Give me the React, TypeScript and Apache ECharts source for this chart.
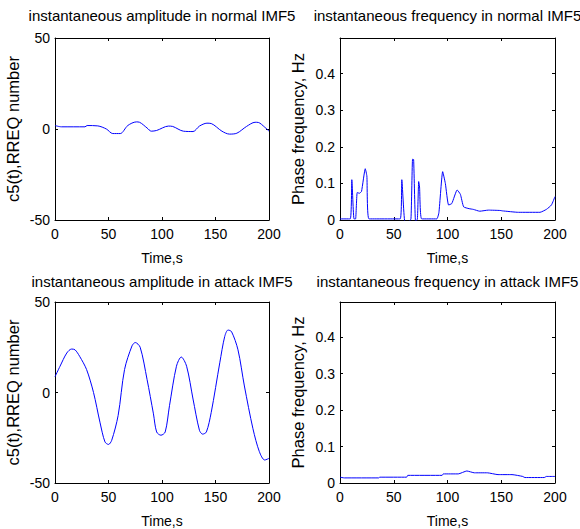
import React, { useEffect, useRef } from "react";
import * as echarts from "echarts";

const titles = [
  "instantaneous amplitude in normal IMF5",
  "instantaneous frequency in normal IMF5",
  "instantaneous amplitude in attack IMF5",
  "instantaneous frequency in attack IMF5",
];

const ampNormalT = [0, 6, 28, 30, 40, 48, 54, 61, 68, 76, 79, 86, 90, 95, 106, 110, 120, 129, 135, 142, 146, 156, 163, 170, 179, 187, 190, 196, 200];
const ampNormalV = [1.9, 1.2, 1.2, 1.9, 1.7, 0, -2.5, -2.5, 1.9, 3.9, 3.7, 0.6, -1.2, -0.8, 1.6, 1.4, -1.2, -1.4, 1.6, 3.2, 3, -1.2, -2.8, -2.3, 1.4, 3.7, 3.6, 1, -1.2];

const freqNormalT = [0, 9.5, 11, 13, 14.5, 16, 18, 20, 23.5, 25, 27, 56, 57.5, 60.4, 63.5, 66, 67.5, 68.5, 70.3, 72, 73.2, 74, 76, 90, 92, 95.5, 98, 101, 104, 109, 112, 115, 120, 124, 130, 138, 149, 151, 166, 186, 192, 196.7, 200];
const freqNormalV = [0.003, 0.003, 0.11, 0.003, 0.003, 0.075, 0.073, 0.078, 0.14, 0.12, 0.003, 0.003, 0.11, -0.006, -0.006, 0.003, 0.166, 0.165, -0.006, 0.003, 0.105, 0.09, 0.003, 0.003, 0.02, 0.132, 0.1, 0.041, 0.045, 0.082, 0.07, 0.036, 0.031, 0.029, 0.024, 0.027, 0.026, 0.025, 0.021, 0.021, 0.029, 0.041, 0.064];

const ampAttackT = [0, 4.7, 11, 15.5, 18.7, 23, 29.5, 36, 42, 46.7, 50, 53, 59, 65, 72, 75, 79.6, 86, 92, 95, 99, 103, 107, 113.5, 118, 123, 129, 135, 138, 141.5, 146, 154, 158.6, 161.7, 165, 171, 177, 185, 191, 196, 200];
const ampAttackV = [8.7, 14.5, 21.8, 24, 23.6, 20, 12.7, 0, -16.4, -27.3, -28.7, -26.4, -12.7, 12.7, 25.8, 27.6, 25, 7.3, -11.8, -21.8, -23.6, -21.8, -7.3, 14.5, 19.6, 14.5, -3.6, -20.9, -23, -21.8, -11, 16.4, 30.9, 34.5, 33.6, 23.6, 3.6, -20, -32.7, -37.3, -36.4];

const freqAttackT = [0, 4, 36, 37, 62, 63, 95, 96, 110, 118, 125, 137, 147, 160, 170, 172, 190, 192, 200];
const freqAttackV = [0.016, 0.014, 0.014, 0.016, 0.016, 0.021, 0.021, 0.025, 0.025, 0.033, 0.028, 0.028, 0.023, 0.023, 0.018, 0.015, 0.015, 0.018, 0.018];

const xTicks = [0, 50, 100, 150, 200];
const ampTicks = [-50, 0, 50];
const freqTicks = [0, 0.1, 0.2, 0.3, 0.4];

const FONT = "Liberation Sans";

const zip = (t: number[], v: number[]) => t.map((x, i) => [x, v[i]]);

export default function App() {
  const ref = useRef<HTMLDivElement>(null);
  useEffect(() => {
    document.body.style.margin = "0";
    const chart = echarts.init(ref.current!, undefined, { renderer: "svg" });
    const grids = [
      { left: 55, top: 38, width: 214, height: 182 },
      { left: 340, top: 38, width: 215, height: 182 },
      { left: 55, top: 302, width: 214, height: 183 },
      { left: 340, top: 302, width: 215, height: 182 },
    ];
    const titleTops = [8, 8, 274, 274];
    const isAmp = [true, false, true, false];
    const data = [
      zip(ampNormalT, ampNormalV),
      zip(freqNormalT, freqNormalV),
      zip(ampAttackT, ampAttackV),
      zip(freqAttackT, freqAttackV),
    ];
    const textStyle = { fontFamily: FONT, fontSize: 14, color: "#000" };
    const xAxes: any[] = [];
    const yAxes: any[] = [];
    grids.forEach((g, i) => {
      const base = {
        gridIndex: i,
        axisLine: { show: true, onZero: false, lineStyle: { color: "#000", width: 1 } },
        axisTick: { show: true, inside: true, length: 3, lineStyle: { color: "#000" } },
        splitLine: { show: false },
      };
      xAxes.push({
        ...base,
        type: "value",
        position: "bottom",
        min: xTicks[0],
        max: xTicks[xTicks.length - 1],
        interval: 50,
        name: "Time,s",
        nameLocation: "middle",
        nameGap: 31,
        nameTextStyle: textStyle,
        axisLabel: { ...textStyle, margin: 7, formatter: (v: number) => String(v) },
      });
      xAxes.push({
        ...base,
        type: "value",
        position: "top",
        min: xTicks[0],
        max: xTicks[xTicks.length - 1],
        interval: 50,
        axisLabel: { show: false },
      });
      const yMin = isAmp[i] ? ampTicks[0] : freqTicks[0];
      const yMax = isAmp[i] ? ampTicks[ampTicks.length - 1] : 0.497;
      const yInt = isAmp[i] ? 50 : 0.1;
      yAxes.push({
        ...base,
        type: "value",
        position: "left",
        min: yMin,
        max: yMax,
        interval: yInt,
        name: isAmp[i] ? "c5(t),RREQ number" : "Phase frequency, Hz",
        nameLocation: "middle",
        nameGap: 34,
        nameTextStyle: { ...textStyle, fontSize: 16.5 },
        axisLabel: {
          ...textStyle,
          margin: 5,
          showMaxLabel: isAmp[i],
          formatter: (v: number) =>
            isAmp[i] ? String(v) : v === 0 ? "0" : v > 0.45 ? "" : v.toFixed(1),
        },
      });
      yAxes.push({
        ...base,
        type: "value",
        position: "right",
        min: yMin,
        max: yMax,
        interval: yInt,
        axisLabel: { show: false },
      });
    });
    chart.setOption({
      animation: false,
      backgroundColor: "#fff",
      title: titles.map((t, i) => ({
        text: t,
        left: grids[i].left + grids[i].width / 2,
        textAlign: "center",
        top: titleTops[i],
        textStyle: { ...textStyle, fontSize: 15, fontWeight: "normal" },
        padding: 0,
      })),
      grid: grids,
      xAxis: xAxes,
      yAxis: yAxes,
      series: data.map((d, i) => ({
        type: "line",
        xAxisIndex: i * 2,
        yAxisIndex: i * 2,
        data: d,
        showSymbol: false,
        smooth: isAmp[i] ? 0.3 : 0.15,
        lineStyle: { color: "#0000ff", width: 1 },
        clip: true,
      })),
    });
    return () => chart.dispose();
  }, []);
  return <div ref={ref} style={{ width: 580, height: 529 }} />;
}
